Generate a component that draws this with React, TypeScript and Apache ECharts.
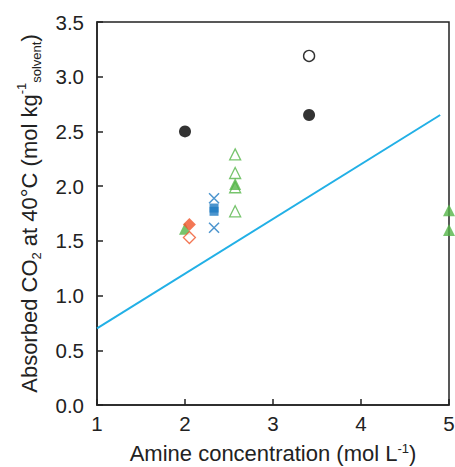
import React, { useEffect, useRef } from "react";
import * as echarts from "echarts";

const xTicks = [1, 2, 3, 4, 5];
const yTicks = [0, 0.5, 1, 1.5, 2, 2.5, 3, 3.5];

const blackFilled = [[2.0, 2.5], [3.41, 2.65]];
const blackOpen = [[3.41, 3.19]];
const redFilled = [[2.05, 1.65]];
const redOpen = [[2.05, 1.53]];
const blueSquares = [[2.33, 1.77], [2.33, 1.8]];
const blueCross = [[2.33, 1.89], [2.33, 1.62]];
const greenOpen = [[2.57, 2.29], [2.57, 2.12], [2.57, 1.99], [2.57, 1.77]];
const greenFilled = [[2.0, 1.61], [2.57, 2.02], [5.0, 1.78], [5.0, 1.6]];
const trendLine = [[1.0, 0.7], [4.9, 2.65]];

const GREEN = "#55b548";
const RED = "#f0552a";
const BLUE = "#1f7bc2";
const CYAN = "#22b0e6";
const FONT = "Liberation Sans, Arial, sans-serif";

export default function App() {
  const ref = useRef<HTMLDivElement>(null);
  useEffect(() => {
    const chart = echarts.init(ref.current!, null, { renderer: "svg" });
    const axisCommon = {
      axisLine: { show: true, onZero: false, lineStyle: { color: "#222", width: 1.5 } },
      axisTick: { show: true, inside: true, length: 6, lineStyle: { color: "#222", width: 1.5 } },
      splitLine: { show: false },
    };
    chart.setOption({
      animation: false,
      grid: {
        left: 97,
        right: 6,
        top: 22,
        bottom: 62,
        containLabel: false,
        outerBoundsMode: "none",
        show: true,
        borderColor: "#222",
        borderWidth: 1.5,
        backgroundColor: "transparent",
      },
      xAxis: {
        type: "value",
        min: xTicks[0],
        max: xTicks[xTicks.length - 1],
        interval: 1,
        ...axisCommon,
        axisLabel: { color: "#222", fontSize: 20.5, fontFamily: FONT, margin: 8 },
        name: "{a|Amine concentration (mol L}{sup|-1}{a|)}",
        nameLocation: "middle",
        nameGap: 37,
        nameTextStyle: {
          rich: {
            a: { fontSize: 22, fontFamily: FONT, color: "#222", lineHeight: 22, verticalAlign: "middle" },
            sup: { fontSize: 13, fontFamily: FONT, color: "#222", lineHeight: 14, verticalAlign: "top" },
          },
        },
      },
      yAxis: {
        type: "value",
        min: yTicks[0],
        max: yTicks[yTicks.length - 1],
        interval: 0.5,
        ...axisCommon,
        axisLabel: {
          color: "#222",
          fontSize: 20.5,
          fontFamily: FONT,
          margin: 13,
          formatter: (v: number) => v.toFixed(1),
        },
        name:
          "{a|Absorbed CO}{sub|2}{a| at 40°C (mol kg}{sup|-1}{sub|solvent}{a|)}",
        nameLocation: "middle",
        nameRotate: 90,
        nameGap: 54,
        nameTextStyle: {
          rich: {
            a: { fontSize: 22, fontFamily: FONT, color: "#222", lineHeight: 28, verticalAlign: "middle" },
            sub: { fontSize: 13, fontFamily: FONT, color: "#222", lineHeight: 15, verticalAlign: "bottom" },
            sup: { fontSize: 13, fontFamily: FONT, color: "#222", lineHeight: 15, verticalAlign: "top" },
          },
        },
      },
      series: [
        {
          type: "line",
          data: trendLine,
          symbol: "none",
          lineStyle: { color: CYAN, width: 2 },
          z: 1,
        },
        {
          type: "scatter",
          data: greenOpen,
          symbol: "triangle",
          symbolSize: 11,
          clip: false,
          itemStyle: { color: "#fff", borderColor: GREEN, borderWidth: 1.3 },
          z: 2,
        },
        {
          type: "scatter",
          data: greenFilled,
          symbol: "triangle",
          symbolSize: 12,
          clip: false,
          itemStyle: { color: GREEN },
          z: 3,
        },
        {
          type: "scatter",
          data: blueSquares,
          symbol: "rect",
          symbolSize: 9,
          clip: false,
          itemStyle: { color: BLUE },
          z: 3,
        },
        {
          type: "scatter",
          data: blueCross,
          symbol: "path://M0,0L10,10M10,0L0,10",
          symbolSize: 10,
          clip: false,
          itemStyle: { color: "none", borderColor: BLUE, borderWidth: 1.5 },
          z: 3,
        },
        {
          type: "scatter",
          data: redOpen,
          symbol: "diamond",
          symbolSize: 12,
          clip: false,
          itemStyle: { color: "#fff", borderColor: RED, borderWidth: 1.3 },
          z: 3,
        },
        {
          type: "scatter",
          data: redFilled,
          symbol: "diamond",
          symbolSize: 13,
          clip: false,
          itemStyle: { color: RED },
          z: 4,
        },
        {
          type: "scatter",
          data: blackFilled,
          symbol: "circle",
          symbolSize: 12,
          clip: false,
          itemStyle: { color: "#000" },
          z: 3,
        },
        {
          type: "scatter",
          data: blackOpen,
          symbol: "circle",
          symbolSize: 11,
          clip: false,
          itemStyle: { color: "#fff", borderColor: "#000", borderWidth: 1.4 },
          z: 3,
        },
      ],
    });
    return () => chart.dispose();
  }, []);
  return <div ref={ref} style={{ width: 455, height: 467, position: "absolute", left: 0, top: 0 }} />;
}
